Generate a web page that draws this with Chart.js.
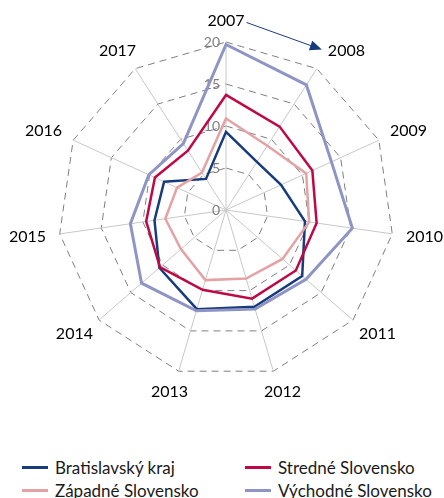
<!DOCTYPE html>
<html>
<head>
<meta charset="utf-8">
<script src="https://cdn.jsdelivr.net/npm/chart.js@4/dist/chart.umd.min.js"></script>
<style>
  body { margin: 0; background: #fff; font-family: Lato, "Noto Sans", sans-serif; }
  #wrap { position: relative; width: 444px; height: 498px; overflow: hidden; }
  #box { position: absolute; left: 0; top: 0; width: 444px; height: 440px; }
  .item { position: absolute; height: 22px; display: flex; align-items: center; font-size: 17px; color: #1a1a1a; white-space: nowrap; }
  .item i { display: inline-block; width: 26px; height: 3px; margin-right: 7px; }
</style>
</head>
<body>
<div id="wrap">
  <div id="box"><canvas id="chart"></canvas></div>
  <div id="legend"></div>
</div>
<script>
const years = ["2007", "2008", "2009", "2010", "2011", "2012", "2013", "2014", "2015", "2016", "2017"];

const bratislavsky = [9.3, 6.8, 7.2, 9.5, 12.0, 12.0, 12.3, 10.5, 8.6, 8.1, 4.4];
const stredne      = [13.7, 11.8, 11.3, 10.9, 11.0, 11.0, 9.9, 10.4, 9.6, 9.3, 8.4];
const zapadne      = [10.9, 9.1, 10.5, 10.0, 8.9, 8.5, 8.7, 7.1, 7.3, 6.4, 5.3];
const vychodne     = [19.7, 17.7, 13.8, 15.2, 12.6, 12.3, 12.5, 13.3, 11.5, 10.1, 9.4];

const seriesNames = ["Bratislavský kraj", "Stredné Slovensko", "Západné Slovensko", "Východné Slovensko"];
const tickMin = 0, tickMax = 20, tickStep = 5;

// farby v poradí seriesNames
const colors = ["#173b7d", "#be0a44", "#e3a3a5", "#8e95c4"];
const values = [bratislavsky, stredne, zapadne, vychodne];

// popisky osí - vycentrované na bod ako v exceli
const yearLabels = {
  id: "yearLabels",
  afterDraw(chart) {
    const r = chart.scales.r;
    const ctx = chart.ctx;
    const dist = r.drawingArea + 14;
    const boxes = [];
    ctx.save();
    ctx.font = "16px Lato";
    ctx.fillStyle = "#000";
    ctx.textAlign = "center";
    ctx.textBaseline = "middle";
    years.forEach((y, i) => {
      const p = r.getPointPosition(i, dist);
      const dx = (p.x - r.xCenter) / dist;
      const dy = (p.y - r.yCenter) / dist;
      const w = ctx.measureText(y).width;
      let x = p.x + dx * w / 2;
      const yy = p.y + dy * 7.5;
      if (i === 1) x += 12; // miesto pre šípku
      ctx.fillText(y, x, yy);
      boxes.push({ x, y: yy, w });
    });

    // šípka 2007 -> 2008
    const a = boxes[0], b = boxes[1];
    const x1 = a.x + a.w / 2 + 2, y1 = a.y + 2;
    const x2 = b.x - b.w / 2 - 6, y2 = b.y - 1;
    const ang = Math.atan2(y2 - y1, x2 - x1);
    ctx.strokeStyle = "#173b7d";
    ctx.fillStyle = "#173b7d";
    ctx.lineWidth = 1;
    ctx.beginPath();
    ctx.moveTo(x1, y1);
    ctx.lineTo(x2 - 10 * Math.cos(ang), y2 - 10 * Math.sin(ang));
    ctx.stroke();
    ctx.beginPath();
    ctx.moveTo(x2, y2);
    ctx.lineTo(x2 - 12 * Math.cos(ang) + 5 * Math.sin(ang), y2 - 12 * Math.sin(ang) - 5 * Math.cos(ang));
    ctx.lineTo(x2 - 12 * Math.cos(ang) - 5 * Math.sin(ang), y2 - 12 * Math.sin(ang) + 5 * Math.cos(ang));
    ctx.closePath();
    ctx.fill();
    ctx.restore();
  }
};

// hodnoty stupnice vľavo od zvislej osi
const tickLabels = {
  id: "tickLabels",
  beforeDatasetsDraw(chart) {
    const r = chart.scales.r;
    const ctx = chart.ctx;
    ctx.save();
    ctx.font = "14px Lato";
    ctx.fillStyle = "#808080";
    ctx.textAlign = "right";
    ctx.textBaseline = "middle";
    r.ticks.forEach(t => {
      const d = r.getDistanceFromCenterForValue(t.value);
      ctx.fillText(String(t.value), r.xCenter - 6, r.yCenter - d);
    });
    ctx.restore();
  }
};

new Chart(document.getElementById("chart"), {
  type: "radar",
  data: {
    labels: years,
    datasets: seriesNames.map((name, i) => ({
      label: name,
      data: values[i],
      borderColor: colors[i],
      backgroundColor: colors[i],
      borderWidth: i === 3 ? 3 : 2.5,
      fill: false,
      pointRadius: 0,
      order: 4 - i
    }))
  },
  options: {
    responsive: true,
    maintainAspectRatio: false,
    animation: false,
    layout: { padding: { left: 58, right: 50, top: 40, bottom: 60 } },
    plugins: { legend: { display: false }, tooltip: { enabled: false } },
    elements: { line: { tension: 0 } },
    scales: {
      r: {
        min: tickMin,
        max: tickMax,
        ticks: { stepSize: tickStep, display: false },
        pointLabels: { display: false },
        grid: { color: "#7f7f7f", lineWidth: 1, borderDash: [7, 5] },
        border: { dash: [7, 5] },
        angleLines: { color: "#c8c8c8", lineWidth: 1 }
      }
    }
  },
  plugins: [tickLabels, yearLabels]
});

// legenda v dvoch stĺpcoch
const legend = document.getElementById("legend");
const cols = [22, 245], rows = [456, 479];
seriesNames.forEach((name, i) => {
  const el = document.createElement("div");
  el.className = "item";
  el.style.left = cols[i % 2] + "px";
  el.style.top = rows[Math.floor(i / 2)] + "px";
  el.innerHTML = '<i style="background:' + colors[i] + '"></i>' + name;
  legend.appendChild(el);
});
</script>
</body>
</html>
